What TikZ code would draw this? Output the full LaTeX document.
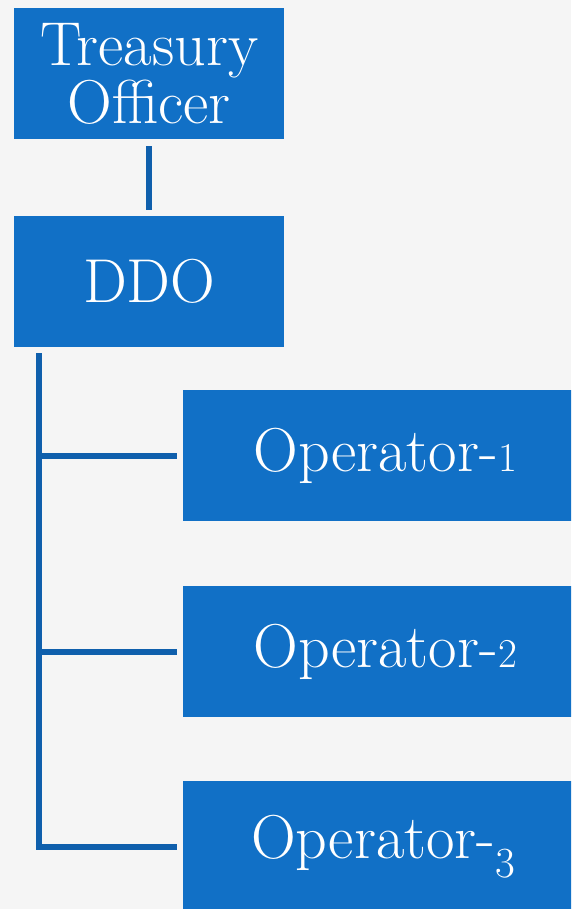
\documentclass[tikz,border=0pt]{standalone}
\usepackage{fontspec}
\definecolor{boxblue}{HTML}{1170C6}
\definecolor{lineblue}{HTML}{0F5FAC}
\definecolor{paper}{HTML}{F5F5F5}
% old-style style figures built from smaller lining digits
\newcommand\osfsmall[1]{{\fontsize{41}{41}\selectfont #1}}
\newcommand\osfdrop[1]{\raisebox{-0.3em}{\fontsize{43}{43}\selectfont #1}}
\tikzset{
  orgbox/.style={fill=boxblue, draw=none, text=white, inner sep=0pt,
    minimum width=#1, minimum height=131pt,
    font=\fontsize{62}{60}\selectfont},
  orgbox/.default=270pt,
  link/.style={draw=lineblue, line width=6pt},
}
\begin{document}
\begin{tikzpicture}[x=1pt, y=-1pt]
  \fill[paper] (0,0) rectangle (571,909);
  \useasboundingbox (0,0) rectangle (571,909);
  \begin{scope}
    \clip (0,0) rectangle (571,909);
    % top of the hierarchy
    \node[orgbox, align=center, anchor=north west] (to) at (14,8)
      {Treasury\\[-2pt]Officer};
    \node[orgbox, anchor=north west] (ddo) at (14,216) {DDO};
    % operators
    \node[orgbox=390pt, anchor=north west, text width=390pt, align=center] (op1) at (183,390)
      {\hspace*{14pt}Operator-\osfsmall{1}};
    \node[orgbox=390pt, anchor=north west, text width=390pt, align=center] (op2) at (183,586)
      {\hspace*{14pt}Operator-\osfsmall{2}};
    \node[orgbox=390pt, anchor=north west, text width=390pt, align=center] (op3) at (183,781)
      {\hspace*{10pt}Operator-\osfdrop{3}};
    % connectors
    \draw[link, shorten <=7pt, shorten >=6pt] (to.south) -- (ddo.north);
    \coordinate (trunk) at ([xshift=25pt, yshift=-6pt]ddo.south west);
    \draw[link] (trunk) |- ([xshift=-6pt]op3.west);
    \draw[link] (trunk |- op1.west) -- ([xshift=-6pt]op1.west);
    \draw[link] (trunk |- op2.west) -- ([xshift=-6pt]op2.west);
  \end{scope}
\end{tikzpicture}
\end{document}
